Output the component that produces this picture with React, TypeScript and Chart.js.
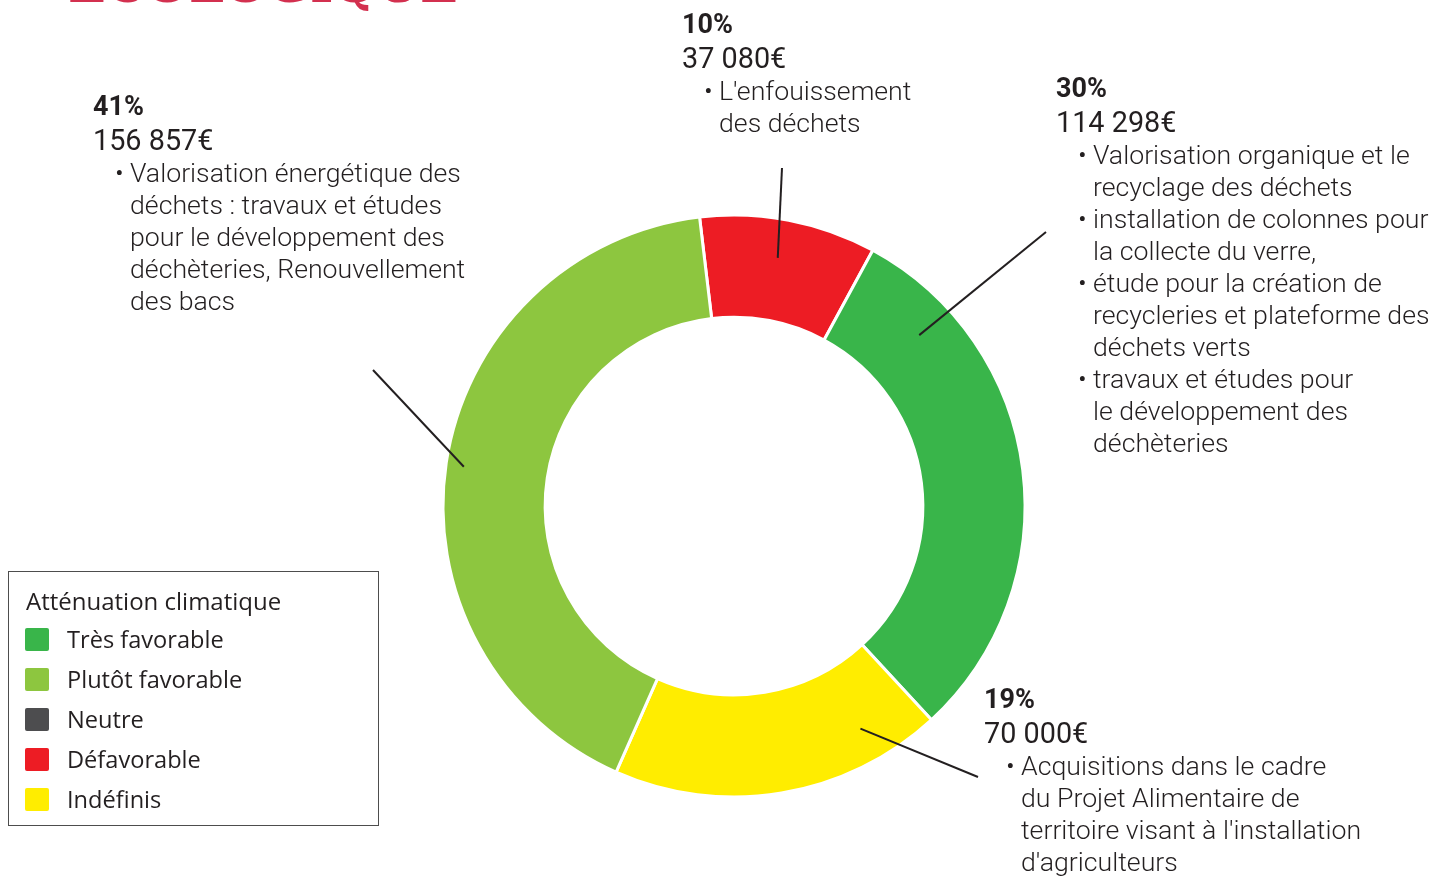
import React, { useEffect, useRef } from "react";
import { Chart, registerables } from "chart.js";

Chart.register(...registerables);

// Data (clockwise order starting from the red slice)
const categories = ["Défavorable", "Très favorable", "Indéfinis", "Plutôt favorable"];
const amounts = [37080, 114298, 70000, 156857];
const sliceColors = ["#ED1C24", "#39B54A", "#FFED00", "#8DC63F"];
const percentLabels = ["10%", "30%", "19%", "41%"];
const amountLabels = ["37 080€", "114 298€", "70 000€", "156 857€"];
const bulletItems: string[][][] = [
  [["L'enfouissement", "des déchets"]],
  [
    ["Valorisation organique et le", "recyclage des déchets"],
    ["installation de colonnes pour", "la collecte du verre,"],
    ["étude pour la création de", "recycleries et plateforme des", "déchets verts"],
    ["travaux et études pour", "le développement des", "déchèteries"],
  ],
  [["Acquisitions dans le cadre", "du Projet Alimentaire de", "territoire visant à l'installation", "d'agriculteurs"]],
  [["Valorisation énergétique des", "déchets : travaux et études", "pour le développement des", "déchèteries, Renouvellement", "des bacs"]],
];

const legendTitle = "Atténuation climatique";
const legendLabels = ["Très favorable", "Plutôt favorable", "Neutre", "Défavorable", "Indéfinis"];
const legendColors = ["#39B54A", "#8DC63F", "#4D4D4F", "#ED1C24", "#FFED00"];

const pageTitle = "ECOLOGIQUE";

// Layout (annotation placement)
const labelPos = [
  { left: 682, top: 6 },
  { left: 1056, top: 70 },
  { left: 984, top: 681 },
  { left: 93, top: 88 },
];
const leaderFraction = [0.476, 0.173, 0.197, 0.498];
const leaderRadius = [252, 252, 256, 273];
const leaderEnd = [
  [782, 168],
  [1046, 232],
  [978, 777],
  [373, 370],
];

const TEXT = "#231F20";

const leaderPlugin = {
  id: "leaders",
  afterDatasetsDraw(chart: any) {
    const ctx = chart.ctx;
    const meta = chart.getDatasetMeta(0);
    ctx.save();
    ctx.strokeStyle = TEXT;
    ctx.lineWidth = 2;
    meta.data.forEach((arc: any, i: number) => {
      const p = arc.getProps(["x", "y", "startAngle", "endAngle"], true);
      const a = p.startAngle + (p.endAngle - p.startAngle) * leaderFraction[i];
      const x0 = p.x + Math.cos(a) * leaderRadius[i];
      const y0 = p.y + Math.sin(a) * leaderRadius[i];
      ctx.beginPath();
      ctx.moveTo(x0, y0);
      ctx.lineTo(leaderEnd[i][0], leaderEnd[i][1]);
      ctx.stroke();
    });
    ctx.restore();
  },
};

function Annotation({ i }: { i: number }) {
  const pos = labelPos[i];
  return (
    <div
      style={{
        position: "absolute",
        left: pos.left,
        top: pos.top,
        fontFamily: "Roboto",
        color: TEXT,
        whiteSpace: "nowrap",
      }}
    >
      <div style={{ fontWeight: 700, fontSize: 27, lineHeight: "36px" }}>{percentLabels[i]}</div>
      <div style={{ fontWeight: 400, fontSize: 28.8, lineHeight: "33px" }}>{amountLabels[i]}</div>
      {bulletItems[i].map((lines, k) => (
        <div
          key={k}
          style={{
            position: "relative",
            paddingLeft: 37,
            fontWeight: 300,
            fontSize: 26.7,
            lineHeight: "32px",
          }}
        >
          <span style={{ position: "absolute", left: 22, top: 0 }}>•</span>
          {lines.map((l, j) => (
            <div key={j}>{l}</div>
          ))}
        </div>
      ))}
    </div>
  );
}

export default function App() {
  const canvasRef = useRef<HTMLCanvasElement | null>(null);

  useEffect(() => {
    if (!canvasRef.current) return;
    const chart = new Chart(canvasRef.current, {
      type: "doughnut",
      data: {
        labels: categories,
        datasets: [
          {
            data: amounts,
            backgroundColor: sliceColors,
            borderColor: "#ffffff",
            borderWidth: 3,
          },
        ],
      },
      options: {
        responsive: false,
        animation: false,
        devicePixelRatio: 1,
        events: [],
        layout: { padding: { left: 22, top: 135, right: 0, bottom: 0 } },
        radius: 291,
        cutout: "64.9%",
        rotation: -6.8,
        plugins: {
          legend: { display: false },
          tooltip: { enabled: false },
        },
      } as any,
      plugins: [leaderPlugin],
    });
    return () => chart.destroy();
  }, []);

  return (
    <div
      style={{
        position: "fixed",
        left: 0,
        top: 0,
        width: 1446,
        height: 877,
        overflow: "hidden",
        background: "#ffffff",
      }}
    >
      <div
        style={{
          position: "absolute",
          left: 68,
          top: -41,
          fontFamily: "DejaVu Serif",
          fontWeight: 700,
          fontSize: 49.8,
          lineHeight: "52px",
          color: "#D3304F",
          whiteSpace: "nowrap",
        }}
      >
        {pageTitle}
      </div>
      <canvas
        ref={canvasRef}
        width={1446}
        height={877}
        style={{ position: "absolute", left: 0, top: 0, width: 1446, height: 877 }}
      />
      {percentLabels.map((_, i) => (
        <Annotation key={i} i={i} />
      ))}
      <div
        style={{
          position: "absolute",
          left: 8,
          top: 571,
          width: 369,
          height: 253,
          border: "1px solid #4d4d4d",
          fontFamily: "Open Sans",
          color: TEXT,
          boxSizing: "content-box",
        }}
      >
        <div
          style={{
            position: "absolute",
            left: 17,
            top: 14,
            fontSize: 24,
            lineHeight: "30px",
            whiteSpace: "nowrap",
          }}
        >
          {legendTitle}
        </div>
        {legendLabels.map((lab, i) => (
          <div key={i}>
            <div
              style={{
                position: "absolute",
                left: 16,
                top: 56 + i * 40,
                width: 24,
                height: 23,
                borderRadius: 2,
                background: legendColors[i],
              }}
            />
            <div
              style={{
                position: "absolute",
                left: 58,
                top: 52 + i * 40,
                fontSize: 23.6,
                lineHeight: "30px",
                whiteSpace: "nowrap",
              }}
            >
              {lab}
            </div>
          </div>
        ))}
      </div>
    </div>
  );
}
